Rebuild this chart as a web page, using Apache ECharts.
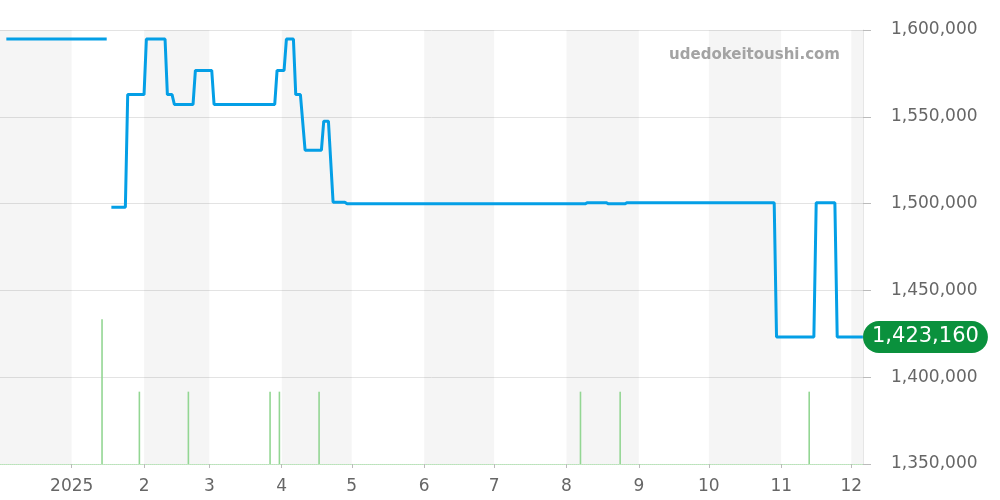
<!DOCTYPE html>
<html>
<head>
<meta charset="utf-8">
<script src="https://cdn.jsdelivr.net/npm/echarts@6/dist/echarts.min.js"></script>
<style>
html,body{margin:0;padding:0;background:#fff;}
#c{width:1000px;height:500px;}
</style>
</head>
<body>
<div id="c"></div>
<script>
// ---- data ----
const priceDates = ['2024-12-04','2025-01-16','2025-01-17','2025-01-18','2025-01-24','2025-01-25','2025-02-01','2025-02-02','2025-02-10','2025-02-11','2025-02-13','2025-02-14','2025-02-22','2025-02-23','2025-03-02','2025-03-03','2025-03-29','2025-03-30','2025-04-02','2025-04-03','2025-04-06','2025-04-07','2025-04-09','2025-04-11','2025-04-18','2025-04-19','2025-04-21','2025-04-23','2025-04-28','2025-04-29','2025-08-09','2025-08-10','2025-08-18','2025-08-19','2025-08-26','2025-08-27','2025-10-29','2025-10-30','2025-11-15','2025-11-16','2025-11-24','2025-11-25','2025-12-06'];
const priceValues = [1594800,1594800,null,1497900,1497900,1562800,1562800,1594800,1594800,1562800,1562800,1557100,1557100,1576700,1576700,1557100,1557100,1576700,1576700,1594800,1594800,1562800,1562800,1530800,1530800,1547500,1547500,1500800,1500800,1499900,1499900,1500500,1500500,1499900,1499900,1500500,1500500,1423160,1423160,1500500,1500500,1423160,1423160];
const volumeDates = ['2025-01-14','2025-01-30','2025-02-20','2025-03-27','2025-03-31','2025-04-17','2025-08-07','2025-08-24','2025-11-13'];
const volumeValues = [2,1,1,1,1,1,1,1,1];
const shadedMonths = [['2024-11-01','2025-01-01'],['2025-02-01','2025-03-01'],['2025-04-01','2025-05-01'],['2025-06-01','2025-07-01'],['2025-08-01','2025-09-01'],['2025-10-01','2025-11-01'],['2025-12-01','2026-01-01']];
const lastPrice = 1423160;
const lastPriceLabel = '1,423,160';
const yMin = 1350000, yMax = 1600000, yStep = 50000;
const xMin = '2024-12-01T15:00:00', xMax = '2025-12-05T17:00:00';
const watermark = 'udedokeitoushi.com';

const chart = echarts.init(document.getElementById('c'), null, {renderer:'canvas'});
const FONT = 'DejaVu Sans';
chart.setOption({
  animation: false,
  backgroundColor: '#ffffff',
  textStyle: {fontFamily: FONT},
  title: {
    text: watermark, right: 155, top: 43,
    textStyle: {fontFamily: FONT, fontSize: 15, fontWeight: 'bold', color: '#a3a3a3'}
  },
  grid: {left: 0, right: 137, top: 30, bottom: 36, containLabel: false},
  xAxis: {
    type: 'time', min: xMin, max: xMax, splitNumber: 12,
    minInterval: 28*86400000, maxInterval: 31*86400000,
    axisLine: {show: true, lineStyle: {color: '#b8e4b8', type: [1, 1], width: 1}},
    axisTick: {show: true, length: 4, lineStyle: {color: '#bbbbbb'}},
    splitLine: {show: false},
    axisLabel: {
      fontFamily: FONT, fontSize: 17, color: '#666666', margin: 14,
      formatter: function (v) {
        const d = new Date(v);
        return d.getMonth() === 0 ? String(d.getFullYear()) : String(d.getMonth() + 1);
      }
    }
  },
  yAxis: [{
    type: 'value', position: 'right', min: yMin, max: yMax, interval: yStep,
    axisLine: {show: true, lineStyle: {color: '#e6e6e6'}},
    axisTick: {show: true, length: 8, lineStyle: {color: '#bbbbbb'}},
    splitLine: {show: true, lineStyle: {color: '#e3e3e3', width: 1}},
    axisLabel: {
      fontFamily: FONT, fontSize: 17, color: '#666666', margin: 28,
      padding: [4, 0, 0, 0],
      formatter: function (v) { return v.toLocaleString('en-US'); }
    }
  }, {
    type: 'value', min: 0, max: 6, show: false,
    splitLine: {show: false}
  }],
  series: [{
    type: 'bar', yAxisIndex: 1, barWidth: 1.6,
    data: volumeDates.map((d, i) => [d, volumeValues[i]]),
    itemStyle: {color: '#93d693'},
    silent: true, z: 2
  }, {
    type: 'line', yAxisIndex: 0,
    data: priceDates.map((d, i) => [d, priceValues[i]]),
    showSymbol: false, connectNulls: false,
    lineStyle: {color: '#049fe6', width: 3},
    itemStyle: {color: '#049fe6'},
    z: 3,
    markArea: {
      silent: true,
      itemStyle: {color: 'rgba(0,0,0,0.04)'},
      data: shadedMonths.map(r => [{xAxis: r[0]}, {xAxis: r[1]}])
    },
    markLine: {
      silent: true, symbol: ['none', 'none'],
      lineStyle: {color: 'rgba(0,0,0,0)', width: 0, type: 'solid'},
      data: [{yAxis: lastPrice}],
      label: {
        show: true, position: 'end', distance: 0,
        formatter: lastPriceLabel,
        fontFamily: FONT, fontSize: 21, color: '#ffffff',
        backgroundColor: '#0a913d', borderRadius: 16,
        padding: [5, 9, 5, 9], lineHeight: 22
      }
    }
  }]
});
</script>
</body>
</html>
